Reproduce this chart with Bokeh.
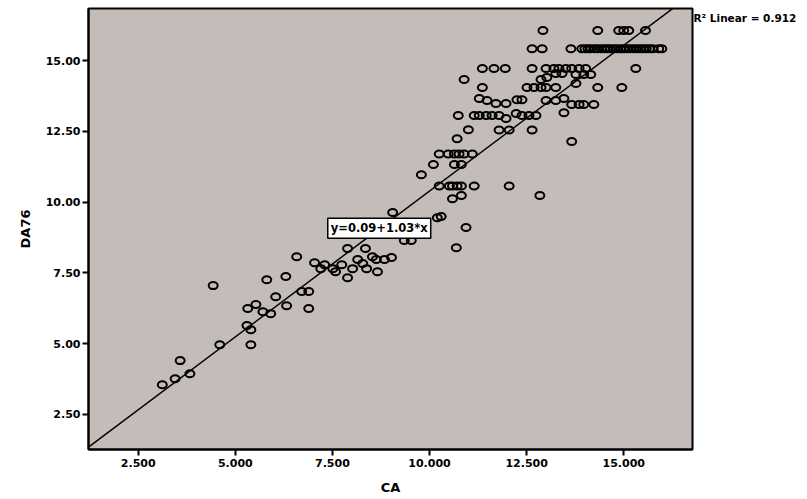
from bokeh.plotting import figure
from bokeh.models import Range1d, FixedTicker, NumeralTickFormatter, Label, LinearAxis
from bokeh.embed import file_html
from bokeh.resources import INLINE

# Observations: CA (x) against DA76 (y)
ca = [
    3.12, 3.45, 3.58, 3.83, 4.43, 4.60, 5.30, 5.40, 5.40, 5.32,
    5.53, 5.71, 5.91, 5.81, 6.04, 6.30, 6.32, 6.58, 6.71, 6.89,
    6.89, 7.04, 7.20, 7.30, 7.51, 7.58, 7.74, 7.89, 8.35, 7.89,
    8.02, 8.15, 8.28, 8.38, 8.53, 8.63, 8.66, 8.84, 9.02, 9.05,
    9.35, 9.53, 9.79, 10.10, 10.64, 10.82, 10.20, 10.30, 10.94, 10.69,
    10.25, 10.51, 10.59, 10.71, 10.82, 11.15, 12.05,
    10.59, 10.82, 12.84,
    10.25, 10.48, 10.64, 10.76, 10.89, 11.10,
    10.71, 11.00, 11.79, 12.05, 12.64, 13.66,
    10.74, 11.15, 11.28, 11.46, 11.61, 11.79, 11.97, 12.23, 12.38, 12.56, 12.74,
    13.46,
    11.28, 11.48, 11.71, 11.97, 12.25, 12.38, 13.00, 13.25, 13.46, 13.66, 13.85, 13.97, 14.23,
    10.89,
    11.36, 12.51, 12.69, 12.87, 13.00, 13.25, 14.33, 14.95,
    12.87, 13.02, 13.25, 13.41, 13.77, 13.97, 14.15, 13.77,
    11.36, 11.66, 11.95, 12.64, 13.00, 13.20, 13.33, 13.51, 13.66, 13.85, 14.02, 15.31,
    12.64, 12.90, 13.64,
    13.92, 14.00, 14.08, 14.15, 14.25, 14.33, 14.42, 14.50, 14.58, 14.66, 14.75, 14.83,
    14.92, 15.00, 15.08, 15.16, 15.25, 15.33, 15.42, 15.50, 15.58, 15.66, 15.75, 15.90, 15.98,
    12.92, 14.33, 14.87, 15.00, 15.13, 15.56,
]
da76 = [
    3.55, 3.76, 4.40, 3.94, 7.05, 4.96, 5.64, 5.49, 4.96, 6.24,
    6.38, 6.13, 6.06, 7.26, 6.66, 7.37, 6.34, 8.07, 6.84, 6.84,
    6.24, 7.86, 7.65, 7.79, 7.65, 7.54, 7.79, 8.36, 8.36, 7.33,
    7.65, 7.97, 7.83, 7.65, 8.07, 7.97, 7.54, 7.97, 8.04, 9.63,
    8.64, 8.64, 10.97, 11.33, 11.33, 11.33, 9.45, 9.49, 9.10, 8.39,
    10.57, 10.57, 10.57, 10.57, 10.57, 10.57, 10.57,
    10.12, 10.23, 10.23,
    11.70, 11.70, 11.70, 11.70, 11.70, 11.70,
    12.24, 12.56, 12.55, 12.55, 12.55, 12.14,
    13.06, 13.06, 13.06, 13.06, 13.06, 13.06, 12.95, 13.13, 13.06, 13.06, 13.06,
    13.16,
    13.66, 13.59, 13.48, 13.48, 13.62, 13.62, 13.59, 13.59, 13.66, 13.45, 13.45, 13.45, 13.45,
    14.33,
    14.05, 14.05, 14.05, 14.05, 14.05, 14.05, 14.05, 14.05,
    14.33, 14.40, 14.54, 14.54, 14.51, 14.51, 14.51, 14.19,
    14.72, 14.72, 14.72, 14.72, 14.72, 14.72, 14.72, 14.72, 14.72, 14.72, 14.72, 14.72,
    15.42, 15.42, 15.42,
    15.42, 15.42, 15.42, 15.42, 15.42, 15.42, 15.42, 15.42, 15.42, 15.42, 15.42, 15.42,
    15.42, 15.42, 15.42, 15.42, 15.42, 15.42, 15.42, 15.42, 15.42, 15.42, 15.42, 15.42, 15.42,
    16.06, 16.06, 16.06, 16.06, 16.06, 16.06,
]

# Fit line and summary statistic
intercept = 0.09
slope = 1.03
r_squared = 0.912

x_ticks = [2.5, 5.0, 7.5, 10.0, 12.5, 15.0]
y_ticks = [2.5, 5.0, 7.5, 10.0, 12.5, 15.0]
x_lim = (1.22, 16.77)
y_lim = (1.26, 16.84)

FONT = "DejaVu Sans"

p = figure(
    width=807, height=499,
    x_range=Range1d(*x_lim), y_range=Range1d(*y_lim),
    output_backend="svg", toolbar_location=None,
    min_border_left=88, min_border_right=115,
    min_border_top=8, min_border_bottom=50,
)
p.background_fill_color = "#c3bcb9"
p.border_fill_color = "white"
p.outline_line_color = "black"
p.outline_line_width = 2
p.grid.visible = False

for ax in (p.xaxis[0], p.yaxis[0]):
    ax.axis_line_width = 2
    ax.axis_line_color = "black"
    ax.major_tick_line_width = 2
    ax.major_tick_out = 6
    ax.major_tick_in = 0
    ax.minor_tick_line_color = None
    ax.major_label_text_font = FONT
    ax.major_label_text_font_style = "bold"
    ax.major_label_text_font_size = "11px"
    ax.major_label_text_color = "black"
    ax.axis_label_text_font = FONT
    ax.axis_label_text_font_style = "bold"
    ax.axis_label_text_font_size = "13px"
    ax.axis_label_text_color = "black"

p.xaxis.ticker = FixedTicker(ticks=x_ticks)
p.yaxis.ticker = FixedTicker(ticks=y_ticks)
p.xaxis.formatter = NumeralTickFormatter(format="0.000")
p.yaxis.formatter = NumeralTickFormatter(format="0.00")
p.xaxis.major_label_standoff = 3
p.yaxis.major_label_standoff = 2
p.xaxis.axis_label = "CA"
p.yaxis.axis_label = "DA76"
p.xaxis.axis_label_standoff = 10
p.yaxis.axis_label_standoff = 10

# R-squared note to the right of the plot area, drawn as a single-label axis
r2_pos = 16.49
r2_axis = LinearAxis(
    ticker=FixedTicker(ticks=[r2_pos]),
    major_label_overrides={r2_pos: f"R\u00b2 Linear = {r_squared:.3f}"},
    axis_line_color=None, major_tick_line_color=None, minor_tick_line_color=None,
    major_tick_out=0, major_tick_in=0, major_label_standoff=1,
    major_label_text_font=FONT, major_label_text_font_style="bold",
    major_label_text_font_size="10.5px", major_label_text_color="black",
)
p.add_layout(r2_axis, "right")

# Regression line across the full horizontal range
line_x = [x_lim[0], x_lim[1]]
line_y = [intercept + slope * v for v in line_x]
p.line(line_x, line_y, line_color="black", line_width=1.5)

# Hollow markers for the observations
p.ellipse(x=ca, y=da76, width=9, height=7,
          width_units="screen", height_units="screen",
          fill_color=None, line_color="black", line_width=2)

eq = Label(x=7.38, y=8.72, text=f"y={intercept:.2f}+{slope:.2f}*x",
           text_font=FONT, text_font_style="bold", text_font_size="11.5px",
           text_color="black", background_fill_color="white",
           border_line_color="black", border_line_width=1.5, padding=3)
p.add_layout(eq)

open("out.html", "w").write(file_html(p, INLINE))
